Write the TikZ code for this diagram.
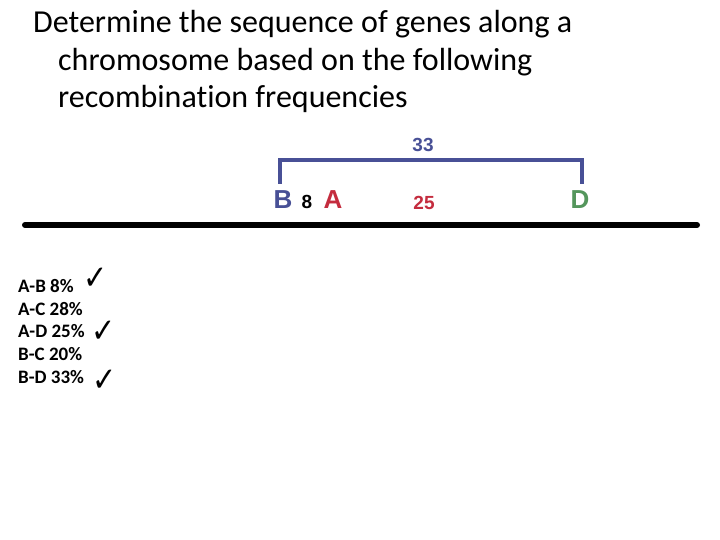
\documentclass[tikz,border=0pt]{standalone}
\usepackage{fontspec}
\setmainfont[Ligatures=NoCommon]{Carlito}
\newfontfamily\genefont{Liberation Sans}
\newfontfamily\symfont{DejaVu Sans}
\definecolor{geneblue}{RGB}{72,80,150}
\definecolor{genered}{RGB}{196,44,62}
\definecolor{genegreen}{RGB}{84,150,92}
\tikzset{
  titleline/.style={anchor=base west, inner sep=0pt, font=\fontsize{32}{32}\selectfont},
  freqline/.style={anchor=base west, inner sep=0pt, font=\fontsize{19}{19}\selectfont\bfseries},
  gene/.style={inner sep=0pt, font=\genefont\fontsize{26}{26}\selectfont\bfseries},
  dist/.style={inner sep=0pt, font=\genefont\fontsize{19}{19}\selectfont\bfseries},
  tick/.style={inner sep=0pt, anchor=south west, xscale=0.85, font=\symfont\fontsize{34}{34}\selectfont},
  bracket/.style={draw=geneblue, line width=4pt},
  chromosome/.style={draw=black, line width=6pt, line cap=round}
}
\begin{document}
\begin{tikzpicture}[x=1pt, y=-1pt]
  \useasboundingbox[fill=white] (0,0) rectangle (720,540);
  % Title
  \node[titleline] (title1) at (33,33) {Determine the sequence of genes along a};
  \node[titleline] (title2) at (58,71) {chromosome based on the following};
  \node[titleline] (title3) at (58,108) {recombination frequencies};
  % Chromosome
  \coordinate (chrL) at (25,225);
  \coordinate (chrR) at (697,225);
  \draw[chromosome] (chrL) -- (chrR);
  % Genes
  \node[gene, text=geneblue] (geneB) at (283,200) {B};
  \node[dist] (distBA) at (307,202) {8};
  \node[gene, text=genered] (geneA) at (333,200) {A};
  \node[dist, text=genered] (distAD) at (424,203) {25};
  \node[gene, text=genegreen] (geneD) at (580,200) {D};
  % Bracket B-D
  \coordinate (brL) at (280,184);
  \coordinate (brR) at (582,184);
  \draw[bracket] (brL) -- ++(0,-24) -| (brR);
  \node[dist, text=geneblue] (distBD) at (423,145) {33};
  % Frequencies
  \node[freqline] (fAB) at (18,292) {A-B 8\%};
  \node[freqline] (fAC) at (18,315) {A-C 28\%};
  \node[freqline] (fAD) at (18,337) {A-D 25\%};
  \node[freqline] (fBC) at (18,360) {B-C 20\%};
  \node[freqline] (fBD) at (18,383) {B-D 33\%};
  % Ticks
  \node[tick] (tAB) at ([xshift=9pt, yshift=2pt]fAB.base east) {✓};
  \node[tick] (tAD) at ([xshift=6pt, yshift=-6pt]fAD.base east) {✓};
  \node[tick] (tBD) at ([xshift=8pt, yshift=-9pt]fBD.base east) {✓};
\end{tikzpicture}
\end{document}
